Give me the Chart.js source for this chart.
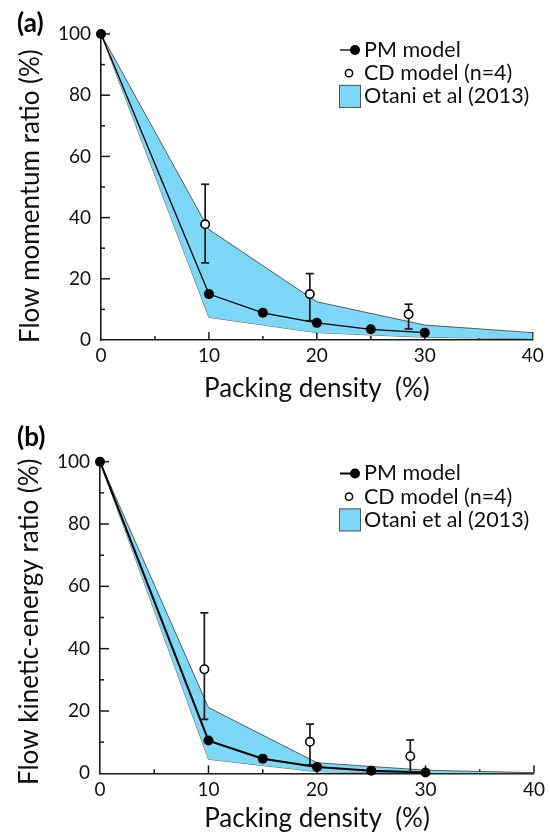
<!DOCTYPE html>
<html><head><meta charset="utf-8">
<script src="https://cdn.jsdelivr.net/npm/chart.js@4.4.1/dist/chart.umd.min.js"></script>
<style>
html,body{margin:0;padding:0;background:#fff;}
#wrap{position:relative;width:550px;height:839px;overflow:hidden;background:#fff;}
canvas{position:absolute;left:0;}
</style></head><body>
<div id="wrap">
<canvas id="ca" width="550" height="420" style="top:0px"></canvas>
<canvas id="cb" width="550" height="419" style="top:420px"></canvas>
</div>
<script>
// ---------- data ----------
const packingPM = [0, 10, 15, 20, 25, 30];
const pmMomentum = [100, 15.0, 8.9, 5.6, 3.5, 2.4];
const pmKinetic = [100, 10.5, 4.7, 2.0, 0.85, 0.25];

const cdXMomentum = [9.65, 19.35, 28.5];
const cdMomentum = [37.8, 15.0, 8.4];
const cdMomentumLow = [25.2, 6.3, 3.6];
const cdMomentumHigh = [50.9, 21.7, 11.7];

const cdXKinetic = [9.62, 19.35, 28.6];
const cdKinetic = [33.4, 10.1, 5.5];
const cdKineticLow = [17.3, 2.7, 0.5];
const cdKineticHigh = [51.5, 15.8, 10.7];

const bandX = [0, 10, 20, 30, 40];
const otaniMomentumUpper = [100, 36.1, 12.5, 4.9, 2.4];
const otaniMomentumLower = [100, 7.4, 2.4, 0.9, 0.4];
const otaniKineticUpper = [100, 21.1, 3.4, 1.0, 0.2];
const otaniKineticLower = [100, 4.5, 0.5, 0.1, 0.0];

const xMajorTicks = [10, 20, 30, 40];
const xMinorTicks = [5, 15, 25, 35];
const yMajorTicks = [20, 40, 60, 80, 100];
const yMinorTicks = [10, 30, 50, 70, 90];

const legendLabels = ['PM model', 'CD model (n=4)', 'Otani et al (2013)'];
const xTitle = 'Packing density  (%)';
const yTitleMomentum = 'Flow momentum ratio (%)';
const yTitleKinetic = 'Flow kinetic-energy ratio (%)';

// ---------- helpers ----------
const BLUE = 'rgb(125,215,246)';
const INK = '#1a1a1a';
const FONT = 'Lato';

function pts(xs, ys) { return xs.map((x, i) => ({x: x, y: ys[i]})); }
function errorBarPoints(xs, lo, hi) {
  const out = [];
  xs.forEach((x, i) => { out.push({x: x, y: lo[i]}, {x: x, y: hi[i]}, {x: x, y: null}); });
  return out;
}

const innerTicks = {
  id: 'innerTicks',
  beforeDatasetsDraw(chart) {
    const {ctx, scales: {x, y}} = chart;
    const b = y.getPixelForValue(0), l = x.getPixelForValue(0);
    ctx.save();
    ctx.strokeStyle = INK; ctx.lineWidth = 1.5;
    const seg = (x1, y1, x2, y2) => { ctx.beginPath(); ctx.moveTo(x1, y1); ctx.lineTo(x2, y2); ctx.stroke(); };
    xMajorTicks.forEach(v => { const p = x.getPixelForValue(v); seg(p, b, p, b - 8); });
    xMinorTicks.forEach(v => { const p = x.getPixelForValue(v); seg(p, b, p, b - 4); });
    yMajorTicks.forEach(v => { const p = y.getPixelForValue(v); seg(l, p, l + 9, p); });
    yMinorTicks.forEach(v => { const p = y.getPixelForValue(v); seg(l, p, l + 4, p); });
    ctx.restore();
  }
};

const panelLegend = {
  id: 'panelLegend',
  afterDraw(chart, args, o) {
    const ctx = chart.ctx;
    ctx.save();
    // panel label
    ctx.fillStyle = '#000';
    ctx.font = 'bold 26px ' + FONT;
    ctx.textBaseline = 'middle'; ctx.textAlign = 'left';
    ctx.fillText(o.tag, o.tagX, o.tagY);
    // y axis title (rotated)
    ctx.save();
    ctx.translate(o.yTitleX, o.yTitleStart);
    ctx.rotate(-Math.PI / 2);
    ctx.font = '26px ' + FONT;
    ctx.fillStyle = '#111';
    ctx.textAlign = 'left'; ctx.textBaseline = 'middle';
    ctx.fillText(o.yTitle, 0, 0);
    ctx.restore();
    // legend
    const x0 = o.x, y0 = o.y, g = o.gap;
    ctx.font = '21.5px ' + FONT;
    ctx.fillStyle = '#111';
    ctx.textAlign = 'left'; ctx.textBaseline = 'middle';
    legendLabels.forEach((t, i) => ctx.fillText(t, x0 + 25, y0 + i * g));
    // PM symbol
    ctx.strokeStyle = '#000'; ctx.lineWidth = o.pmWidth;
    ctx.beginPath(); ctx.moveTo(x0 + 1, y0); ctx.lineTo(x0 + 16, y0); ctx.stroke();
    ctx.fillStyle = '#000';
    ctx.beginPath(); ctx.arc(x0 + 16, y0, 5, 0, Math.PI * 2); ctx.fill();
    // CD symbol
    ctx.fillStyle = '#fff'; ctx.lineWidth = 1.5;
    ctx.beginPath(); ctx.arc(x0 + 10, y0 + g, 3.6, 0, Math.PI * 2); ctx.fill(); ctx.stroke();
    // Otani symbol
    ctx.fillStyle = BLUE; ctx.strokeStyle = '#555'; ctx.lineWidth = 1;
    ctx.fillRect(x0, y0 + 2 * g - 11.5, 22, 23);
    ctx.strokeRect(x0 + 0.5, y0 + 2 * g - 11, 21, 22);
    ctx.restore();
  }
};

function makeChart(id, o) {
  const tickFont = {family: FONT, size: 19};
  const titleFont = {family: FONT, size: 26};
  return new Chart(document.getElementById(id), {
    type: 'line',
    data: {
      datasets: [
        {label: legendLabels[1], data: pts(o.cdX, o.cd), showLine: false,
         pointRadius: 4.2, pointBackgroundColor: '#fff', pointBorderColor: '#000',
         pointBorderWidth: 1.6, order: 0, clip: false},
        {label: 'CD error', data: errorBarPoints(o.cdX, o.cdLo, o.cdHi), borderColor: INK,
         borderWidth: 1.7, pointStyle: 'line', pointRadius: 4, pointBorderWidth: 1.7,
         pointBorderColor: INK, spanGaps: false, order: 1, clip: false},
        {label: legendLabels[0], data: pts(packingPM, o.pm), borderColor: '#000',
         borderWidth: o.pmWidth, pointRadius: 5, pointBackgroundColor: '#000',
         pointBorderWidth: 0, order: 2, clip: false},
        {label: legendLabels[2], data: pts(bandX, o.up), borderColor: '#3a3a3a', borderWidth: 0.8,
         pointRadius: 0, fill: '+1', backgroundColor: BLUE, order: 3, clip: false},
        {label: 'Otani lower', data: pts(bandX, o.lo), borderColor: '#3a3a3a', borderWidth: 0.8,
         pointRadius: 0, fill: false, order: 4, clip: false}
      ]
    },
    options: {
      responsive: false, animation: false, events: [],
      layout: {padding: {top: o.top, right: o.right, left: 0, bottom: 0}},
      scales: {
        x: {type: 'linear', min: 0, max: 40,
            ticks: {stepSize: 10, padding: o.xPad, font: tickFont, color: '#111', maxRotation: 0},
            grid: {display: false, drawTicks: false},
            border: {display: true, color: INK, width: 1.6},
            title: {display: true, text: xTitle, font: titleFont, color: '#111',
                    padding: {top: 0, bottom: o.xTitlePad}},
            afterFit(s) { s.height = o.xh; }},
        y: {type: 'linear', min: 0, max: 100,
            ticks: {stepSize: 20, padding: 10, font: tickFont, color: '#111'},
            grid: {display: false, drawTicks: false},
            border: {display: true, color: INK, width: 1.6},
            title: {display: false},
            afterFit(s) { s.width = o.yw; }}
      },
      plugins: {
        legend: {display: false}, tooltip: {enabled: false},
        panelLegend: {tag: o.tag, tagX: 17, tagY: o.tagY, x: 339, y: o.legY, gap: 23.2,
                      pmWidth: o.pmWidth, yTitle: o.yTitle, yTitleX: o.yTitleX, yTitleStart: o.yTitleStart}
      }
    },
    plugins: [innerTicks, panelLegend]
  });
}

makeChart('ca', {
  tag: '(a)', tagY: 24, legY: 50,
  cdX: cdXMomentum, cd: cdMomentum, cdLo: cdMomentumLow, cdHi: cdMomentumHigh,
  pm: pmMomentum, up: otaniMomentumUpper, lo: otaniMomentumLower, pmWidth: 1.3,
  top: 34, right: 17.3, yw: 101, xh: 80, xPad: 4, xTitlePad: 16, 
  yTitle: yTitleMomentum, yTitleX: 31, yTitleStart: 343
});
makeChart('cb', {
  tag: '(b)', tagY: 18, legY: 53.5,
  cdX: cdXKinetic, cd: cdKinetic, cdLo: cdKineticLow, cdHi: cdKineticHigh,
  pm: pmKinetic, up: otaniKineticUpper, lo: otaniKineticLower, pmWidth: 2.0,
  top: 41.7, right: 12.3, yw: 100, xh: 65.7, xPad: 5, xTitlePad: 5,
  yTitle: yTitleKinetic, yTitleX: 30, yTitleStart: 365
});
</script>
</body></html>
